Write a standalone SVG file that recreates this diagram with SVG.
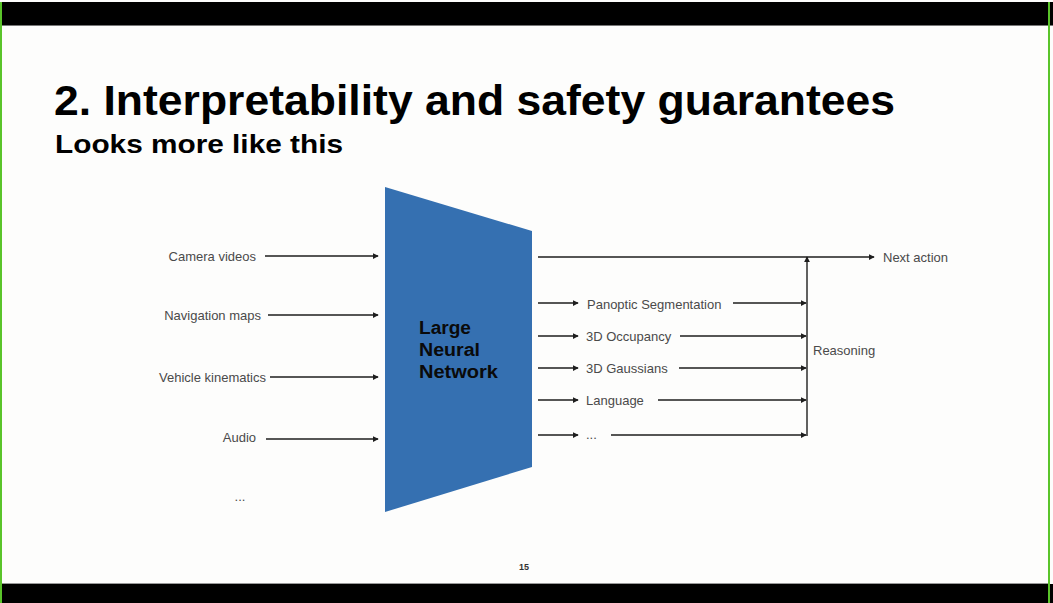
<svg xmlns="http://www.w3.org/2000/svg" width="1053" height="603" viewBox="0 0 1053 603">
<style>
.lbl{font-family:"Liberation Sans",Arial,sans-serif;font-size:13px;fill:#4a4a4a;dominant-baseline:central}
.ln{stroke:#1e1e1e;stroke-width:1.4;fill:none}
.arr{marker-end:url(#ah)}
</style>
<defs>
<marker id="ah" viewBox="0 0 8 8" refX="7" refY="4" markerWidth="6" markerHeight="6" markerUnits="userSpaceOnUse" orient="auto">
<path d="M0,0 L8,4 L0,8 Z" fill="#1e1e1e"/>
</marker>
</defs>
<rect x="0" y="0" width="1053" height="603" fill="#fdfdfc"/>
<rect x="0" y="2" width="1053" height="24" fill="#000"/>
<line x1="0" y1="25.5" x2="1053" y2="25.5" stroke="#777" stroke-width="1"/>
<rect x="0" y="584" width="1053" height="19" fill="#000"/>
<line x1="0" y1="583.5" x2="1053" y2="583.5" stroke="#999" stroke-width="1"/>
<rect x="0" y="2" width="2" height="601" fill="#5ac42a"/>
<rect x="1048" y="2" width="2" height="601" fill="#5ac42a"/>
<rect x="1050" y="26" width="3" height="558" fill="#fdfdfc"/>

<text x="54" y="115" font-family="Liberation Sans,Arial,sans-serif" font-weight="bold" font-size="42" fill="#000" textLength="841" lengthAdjust="spacingAndGlyphs">2. Interpretability and safety guarantees</text>
<text x="55" y="153" font-family="Liberation Sans,Arial,sans-serif" font-weight="bold" font-size="25" fill="#000" textLength="288" lengthAdjust="spacingAndGlyphs">Looks more like this</text>

<g id="network">
<polygon points="385,187 532,231 532,467 385,512" fill="#3570b1"/>
<g font-family="Liberation Sans,Arial,sans-serif" font-weight="bold" font-size="18" fill="#0a0a0a">
<text x="419" y="334" textLength="52" lengthAdjust="spacingAndGlyphs">Large</text>
<text x="419" y="356" textLength="61" lengthAdjust="spacingAndGlyphs">Neural</text>
<text x="419" y="378" textLength="79" lengthAdjust="spacingAndGlyphs">Network</text>
</g>
</g>

<g id="inputs">
<text class="lbl" x="256" y="256" text-anchor="end">Camera videos</text>
<text class="lbl" x="261" y="315" text-anchor="end">Navigation maps</text>
<text class="lbl" x="266" y="377" text-anchor="end">Vehicle kinematics</text>
<text class="lbl" x="256" y="437" text-anchor="end">Audio</text>
<text class="lbl" x="240" y="496" text-anchor="middle">...</text>
</g>

<g id="outputs">
<text class="lbl" x="587" y="304">Panoptic Segmentation</text>
<text class="lbl" x="586" y="336">3D Occupancy</text>
<text class="lbl" x="586" y="368">3D Gaussians</text>
<text class="lbl" x="586" y="400">Language</text>
<text class="lbl" x="586" y="434">...</text>
<text class="lbl" x="813" y="350">Reasoning</text>
<text class="lbl" x="883" y="257">Next action</text>
</g>

<g id="connectors">
<line class="ln arr" x1="265" y1="256" x2="378" y2="256"/>
<line class="ln arr" x1="268" y1="315" x2="378" y2="315"/>
<line class="ln arr" x1="270" y1="377" x2="378" y2="377"/>
<line class="ln arr" x1="266" y1="439" x2="378" y2="439"/>

<line class="ln arr" x1="538" y1="257" x2="874" y2="257"/>
<line class="ln arr" x1="807" y1="436" x2="807" y2="257"/>

<line class="ln arr" x1="538" y1="303" x2="578" y2="303"/>
<line class="ln arr" x1="733" y1="303" x2="806" y2="303"/>
<line class="ln arr" x1="538" y1="336" x2="578" y2="336"/>
<line class="ln arr" x1="680" y1="336" x2="806" y2="336"/>
<line class="ln arr" x1="538" y1="368" x2="578" y2="368"/>
<line class="ln arr" x1="679" y1="368" x2="806" y2="368"/>
<line class="ln arr" x1="538" y1="400" x2="578" y2="400"/>
<line class="ln arr" x1="658" y1="400" x2="806" y2="400"/>
<line class="ln arr" x1="538" y1="435" x2="578" y2="435"/>
<line class="ln arr" x1="611" y1="435" x2="806" y2="435"/>
</g>

<text x="524" y="570" text-anchor="middle" font-family="Liberation Sans,Arial,sans-serif" font-weight="bold" font-size="9" fill="#333">15</text>
</svg>
